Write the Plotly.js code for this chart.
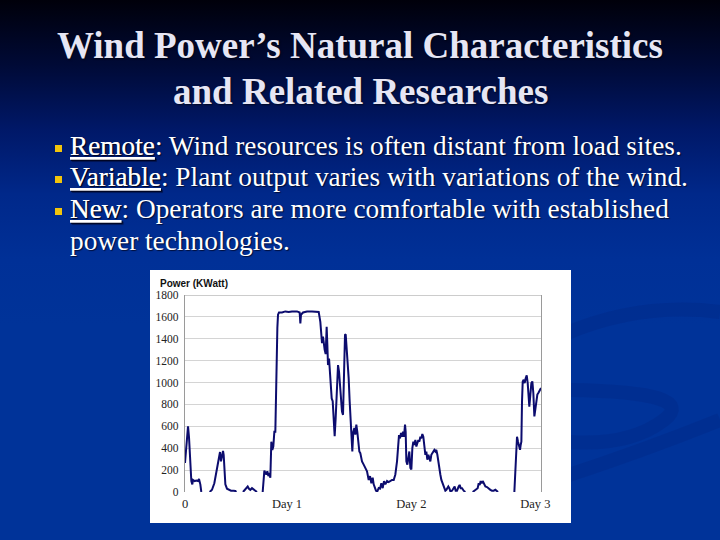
<!DOCTYPE html>
<html>
<head>
<meta charset="utf-8">
<script src="https://cdn.plot.ly/plotly-3.0.1.min.js"></script>
<style>
  html, body { margin: 0; padding: 0; width: 720px; height: 540px; overflow: hidden; }
  body { background: linear-gradient(180deg, #00000a 0%, #000a36 12%, #001868 24%, #00288a 36%, #003097 48%, #003399 60%, #003399 100%); }
  #chart { width: 720px; height: 540px; }
</style>
</head>
<body>
<div id="chart"></div>
<script>
// ---------- data ----------
const titleLines = ["Wind Power’s Natural Characteristics", "and Related Researches"];
const bulletLines = [
  "<u>Remote</u>: Wind resources is often distant from load sites.",
  "<u>Variable</u>: Plant output varies with variations of the wind.",
  "<u>New</u>: Operators are more comfortable with established",
  "power technologies."
];
const yAxisLabel = "Power (KWatt)";
const xTickText = ["0", "Day 1", "Day 2", "Day 3"];
const xTickHours = [0, 20.63, 45.77, 70.85];
const yTickVals = [0, 200, 400, 600, 800, 1000, 1200, 1400, 1600, 1800];

// elapsed time (hours) and power output (kW); null = gap in the record
const hours = [
  0.00,0.54,0.61,0.81,0.94,1.08,1.28,1.48,1.62,1.96,2.29,2.63,2.83,3.10,3.30,
  4.10,
  4.99,5.46,5.93,6.27,6.47,6.67,6.94,7.08,7.28,7.48,7.69,7.82,7.96,8.16,8.49,8.83,9.30,9.84,10.18,10.38,
  11.00,
  11.73,12.07,12.41,12.68,12.94,13.21,13.55,13.89,14.23,14.56,
  15.10,
  15.71,15.91,16.05,16.25,16.45,16.65,16.86,17.06,17.26,17.46,
  17.66,17.86,18.07,18.27,18.41,18.54,18.68,18.81,19.01,19.62,
  20.29,20.97,21.64,22.65,23.19,23.33,23.46,23.87,24.68,25.69,
  26.70,27.04,27.37,27.51,27.71,27.91,28.05,28.25,28.45,28.65,
  28.79,28.92,29.13,29.26,29.46,29.67,29.87,30.07,30.27,30.47,
  30.74,30.95,31.15,31.35,31.55,31.75,31.96,32.16,32.36,32.50,
  32.70,32.90,33.10,33.30,33.51,33.71,33.84,34.04,34.25,34.45,
  34.65,34.85,35.05,35.26,35.46,35.80,36.14,36.47,36.81,37.15,
  37.42,37.69,37.96,38.16,38.36,38.63,38.90,39.17,39.44,39.71,
  39.98,40.25,40.52,40.86,41.19,41.53,41.87,42.21,42.54,42.88,
  43.08,43.28,43.49,43.69,43.89,44.09,44.29,44.50,44.63,44.77,
  44.97,45.17,45.37,45.58,45.78,45.98,46.18,46.38,46.59,46.79,
  46.99,47.19,47.40,47.60,47.80,48.00,48.20,48.41,48.61,48.81,
  49.01,49.22,49.42,49.62,49.82,50.03,50.23,50.43,50.63,50.83,
  51.04,51.24,51.44,51.64,51.85,52.05,52.25,52.45,52.65,52.86,
  53.06,53.26,53.46,53.67,54.00,54.34,54.54,54.74,55.01,55.35,
  55.55,55.76,56.03,56.36,56.70,
  57.40,
  58.18,58.59,58.93,59.19,59.40,59.60,59.80,60.00,60.21,60.48,
  60.75,61.08,61.42,61.76,62.09,62.43,62.77,63.10,63.31,
  65.00,
  66.61,66.81,67.01,67.15,67.35,67.55,67.76,67.89,68.03,68.16,
  68.30,68.50,68.70,68.90,69.11,69.31,69.51,69.64,69.85,70.05,
  70.25,70.45,70.66,70.86,71.06,71.26,71.46,71.67,71.87,72.00
];
const power = [
  265,560,600,500,400,220,100,70,110,100,105,100,120,70,0,
  null,
  0,20,80,160,190,250,310,365,280,340,375,340,220,70,30,20,12,12,10,0,
  null,
  0,20,35,50,30,20,35,20,12,0,
  null,
  0,100,195,175,160,190,145,175,130,460,
  385,415,550,550,980,1435,1500,1620,1640,1640,
  1650,1645,1650,1650,1640,1540,1620,1640,1650,1650,
  1650,1645,1555,1435,1360,1420,1360,1300,1260,1510,
  1345,1160,1220,1130,980,855,830,645,510,675,
  950,1160,1100,980,855,735,705,1130,1435,1440,
  1315,1160,1040,830,615,430,370,550,585,525,
  615,550,430,370,355,280,250,220,190,110,
  145,80,130,70,35,12,6,35,30,80,
  35,100,70,100,90,100,110,110,160,280,
  385,520,490,540,505,550,505,615,550,280,
  250,340,370,220,205,400,460,430,475,415,
  460,475,460,505,490,530,505,385,340,370,
  295,340,295,280,340,355,370,385,370,385,
  340,265,220,160,110,80,50,20,12,20,
  35,50,35,6,12,35,50,12,12,50,
  65,35,35,12,0,
  null,
  0,12,20,35,80,65,100,80,100,70,
  50,45,30,20,12,12,20,12,0,
  null,
  0,220,355,505,460,430,385,430,460,825,
  1010,1025,995,1040,1065,995,890,780,890,995,
  1010,905,690,765,825,890,905,920,945,950
];

// ---------- layout helpers (pixel -> paper) ----------
const W = 720, H = 540, ML = 185, MR = 179, MT = 295, MB = 48;
const PWd = W - ML - MR, PHt = H - MT - MB;
const fx = x => (x - ML) / PWd;
const fy = y => (H - MB - y) / PHt;

const serif = "Liberation Serif, Times New Roman, serif";
const annotations = [];
const titleY = [45, 91];
titleLines.forEach((t, i) => annotations.push({
  xref: 'paper', yref: 'paper', x: fx(360), y: fy(titleY[i]), xanchor: 'center', yanchor: 'middle',
  text: '<b>' + t + '</b>', showarrow: false,
  font: { family: serif, size: 37, color: '#e6e6f4', shadow: '1px 1px 2px rgba(0,0,0,0.6)' }
}));
const bulletY = [146, 177, 209, 241];
bulletLines.forEach((t, i) => annotations.push({
  xref: 'paper', yref: 'paper', x: fx(68), y: fy(bulletY[i]), xanchor: 'left', yanchor: 'middle',
  text: t, showarrow: false,
  font: { family: serif, size: 27.3, color: '#ffffff', shadow: '1px 1px 1px rgba(0,0,20,0.7)' }
}));
annotations.push({
  xref: 'paper', yref: 'paper', x: fx(158), y: fy(283.5), xanchor: 'left', yanchor: 'middle',
  text: '<b>' + yAxisLabel + '</b>', showarrow: false,
  font: { family: 'Liberation Sans, Arial, sans-serif', size: 10, color: '#111111' }
});

const shapes = [];
// faint background swooshes
const pathFrom = pts => pts.map((p, i) => (i === 0 ? 'M ' : (p.q ? 'Q ' : 'L ')) +
  (p.q ? fx(p.q[0]) + ',' + fy(p.q[1]) + ' ' : '') + fx(p[0]) + ',' + fy(p[1])).join(' ');
const swooshCol = 'rgba(0,28,110,0.18)';
[
  [[565, 334], Object.assign([720, 312], { q: [640, 302] })],
  [[570, 390], Object.assign([664, 420], { q: [700, 392] }), Object.assign([570, 442], { q: [630, 446] })],
  [[560, 478], Object.assign([720, 420], { q: [640, 452] })]
].forEach(pts => shapes.push({
  type: 'path', xref: 'paper', yref: 'paper', layer: 'below', path: pathFrom(pts),
  line: { color: swooshCol, width: 14 }
}));
// white chart panel
shapes.push({ type: 'rect', xref: 'paper', yref: 'paper', layer: 'below',
  x0: fx(150), x1: fx(571), y0: fy(523), y1: fy(270), fillcolor: '#ffffff', line: { width: 0 } });
// bullet squares
bulletY.slice(0, 3).forEach(y => shapes.push({ type: 'rect', xref: 'paper', yref: 'paper',
  x0: fx(55), x1: fx(62), y0: fy(y + 6), y1: fy(y - 1), fillcolor: '#f2c40c', line: { width: 0 } }));
// top border of plot box
shapes.push({ type: 'line', xref: 'paper', yref: 'y', x0: 0, x1: 1, y0: 1800, y1: 1800,
  line: { color: '#9a9a9a', width: 1.2 } });

const trace = {
  x: hours, y: power, type: 'scatter', mode: 'lines', connectgaps: false,
  line: { color: '#0c0c6e', width: 2 }, hoverinfo: 'skip'
};

const layout = {
  width: W, height: H,
  margin: { l: ML, r: MR, t: MT, b: MB, pad: 0 },
  paper_bgcolor: 'rgba(0,0,0,0)', plot_bgcolor: '#ffffff',
  showlegend: false,
  xaxis: {
    range: [0, 72], tickvals: xTickHours, ticktext: xTickText, ticks: '',
    showgrid: false, zeroline: false, showline: false,
    tickfont: { family: serif, size: 12.5, color: '#222222' }, ticklabelstandoff: 2
  },
  yaxis: {
    range: [0, 1800], tickvals: yTickVals, ticks: '',
    showgrid: true, gridcolor: '#d4d4d4', gridwidth: 1, zeroline: false,
    showline: true, mirror: true, linecolor: '#9a9a9a', linewidth: 1.2,
    tickfont: { family: serif, size: 11.5, color: '#222222' }, ticklabelstandoff: 3
  },
  annotations: annotations, shapes: shapes
};

Plotly.newPlot('chart', [trace], layout, { staticPlot: true, displayModeBar: false });
</script>
</body>
</html>
